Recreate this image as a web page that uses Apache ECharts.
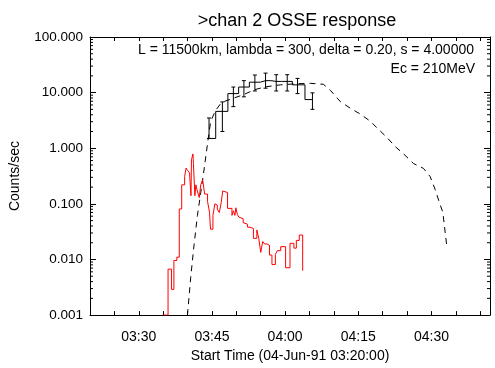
<!DOCTYPE html>
<html>
<head>
    <meta charset="UTF-8"/>
    <script src="https://cdn.jsdelivr.net/npm/echarts@6/dist/echarts.min.js"></script>
    <title>chan 2 OSSE response</title>
    <style>
        body { margin: 0; background: #fff; }
        #main { width: 495px; height: 368px; }
    </style>
</head>
<body>
<div id="main"></div>
<script type="text/javascript">
    // times are minutes after 03:00 UT (04-Jun-91), rates in counts/sec
    var xMin = 20, xMax = 102;

    // red histogram (bin start, rate)
    var redTime = [34.9, 36.0, 36.7, 37.2, 37.8, 38.3, 38.8, 39.4, 39.7, 40.0,
        40.4, 40.7, 40.8, 41.1, 41.2, 41.5, 41.7, 42.0, 42.4, 42.7,
        43.1, 43.5, 44.1, 44.5, 44.7, 45.2, 45.6, 45.8, 46.1, 46.5,
        46.9, 47.2, 47.6, 48.2, 48.6, 49.1, 49.4, 49.7, 49.9, 50.2,
        50.5, 50.9, 51.4, 51.8, 52.3, 52.8, 53.5, 54.2, 54.6, 55.0,
        55.4, 55.8, 56.3, 56.8, 57.3, 58.0, 58.4, 59.1, 59.5, 60.1,
        61.0, 61.8, 62.3, 62.9, 63.6];
    var redRate = [0.001, 0.0067, 0.0029, 0.0096, 0.011, 0.081, 0.22, 0.31, 0.44, 0.40,
        0.36, 0.14, 0.62, 0.79, 0.53, 0.14, 0.22, 0.17, 0.13, 0.22,
        0.27, 0.15, 0.11, 0.071, 0.035, 0.062, 0.10, 0.095, 0.08, 0.07,
        0.105, 0.17, 0.16, 0.083, 0.083, 0.062, 0.075, 0.062, 0.085, 0.065,
        0.058, 0.054, 0.046, 0.043, 0.038, 0.036, 0.024, 0.034, 0.024, 0.0134,
        0.021, 0.019, 0.018, 0.012, 0.0081, 0.0123, 0.0144, 0.017, 0.017, 0.0071,
        0.0195, 0.016, 0.022, 0.0275, 0.0063];

    // black OSSE points with error bars
    var obsTime = [44.40, 47.14, 49.39, 51.55, 53.80, 55.99, 58.18, 60.43, 62.54, 65.60];
    var obsRate = [1.5, 4.6, 9.6, 12.6, 15.4, 16.4, 15.9, 15.9, 13.8, 7.5];
    var obsLow  = [1.5, 2.0, 5.6, 8.4, 10.7, 12.0, 10.7, 10.7, 9.6, 5.0];
    var obsHigh = [3.5, 6.8, 12.6, 16.4, 20.7, 22.4, 21.0, 21.0, 18.0, 9.9];

    // dashed model curve
    var modelTime = [39.98, 40.65, 41.33, 42.02, 42.70, 43.37, 44.07, 44.74, 45.77, 46.99,
        49.24, 51.49, 53.74, 55.99, 59.06, 62.13, 65.19, 67.85, 69.28, 71.33,
        73.37, 75.42, 77.46, 79.16, 80.88, 82.58, 84.27, 86.32, 88.36, 89.73,
        90.76, 91.64, 92.33, 92.80, 93.15];
    var modelRate = [0.001, 0.0048, 0.0183, 0.0615, 0.158, 0.406, 1.17, 3.06, 4.83, 6.68,
        7.85, 9.2, 11.3, 12.7, 13.8, 14.4, 14.7, 14.1, 11.0, 6.87,
        5.24, 4.11, 3.06, 2.18, 1.56, 1.07, 0.794, 0.531, 0.434, 0.31,
        0.181, 0.105, 0.0703, 0.0313, 0.0171];

    var decades = [-3, -2, -1, 0, 1];
    var font = 'Liberation Sans, Arial, Helvetica, sans-serif';

    function pad(n) { return (n < 10 ? '0' : '') + n; }
    function pairs(xs, ys) { return xs.map(function (x, i) { return [x, ys[i]]; }); }

    // minor ticks 2..9 in every decade, drawn through the y scale
    var minorVals = [];
    decades.forEach(function (d) {
        for (var m = 2; m <= 9; m++) minorVals.push([xMin, m * Math.pow(10, d)]);
    });

    var black = '#000';
    var myChart = echarts.init(document.getElementById('main'));

    var option = {
        animation: false,
        backgroundColor: '#fff',
        textStyle: {fontFamily: font},
        title: {
            text: '>chan 2 OSSE response',
            left: 292, top: 7, textAlign: 'center',
            textStyle: {fontSize: 18, fontWeight: 'normal', color: '#000', fontFamily: font}
        },
        grid: {left: 89, right: 5, top: 37, bottom: 46},
        graphic: [
            {type: 'text', right: 21, top: 43,
                style: {text: 'L = 11500km, lambda = 300, delta = 0.20, s = 4.00000', font: '14px ' + font, fill: '#000'}},
            {type: 'text', right: 20, top: 62,
                style: {text: 'Ec = 210MeV', font: '14px ' + font, fill: '#000'}}
        ],
        xAxis: [{
            type: 'value', min: xMin, max: xMax, interval: 5, position: 'bottom',
            axisLine: {show: true, onZero: false, lineStyle: {color: black, width: 1}},
            axisTick: {show: true, inside: true, length: 4, lineStyle: {color: black}},
            axisLabel: {
                color: '#000', fontSize: 14, margin: 15, showMaxLabel: false,
                formatter: function (v) {
                    if (v % 15 !== 0) return '';
                    return pad(3 + Math.floor(v / 60)) + ':' + pad(v % 60);
                }
            },
            splitLine: {show: false},
            name: 'Start Time (04-Jun-91 03:20:00)', nameLocation: 'middle', nameGap: 32,
            nameTextStyle: {fontSize: 14, color: '#000'}
        }, {
            type: 'value', min: xMin, max: xMax, interval: 5, position: 'top',
            axisLine: {show: true, onZero: false, lineStyle: {color: black, width: 1}},
            axisTick: {show: true, inside: true, length: 4, lineStyle: {color: black}},
            axisLabel: {show: false},
            splitLine: {show: false}
        }],
        yAxis: [{
            type: 'log', logBase: 10, min: 0.001, max: 100, position: 'left',
            axisLine: {show: true, onZero: false, lineStyle: {color: black, width: 1}},
            axisTick: {show: true, inside: true, length: 6, lineStyle: {color: black}},
            axisLabel: {
                color: '#000', fontSize: 13.5, margin: 7,
                formatter: function (v) { return Number(v).toFixed(3); }
            },
            splitLine: {show: false},
            name: 'Counts/sec', nameLocation: 'middle', nameGap: 68,
            nameTextStyle: {fontSize: 14, color: '#000'}
        }, {
            type: 'log', logBase: 10, min: 0.001, max: 100, position: 'right',
            axisLine: {show: true, onZero: false, lineStyle: {color: black, width: 1}},
            axisTick: {show: true, inside: true, length: 6, lineStyle: {color: black}},
            axisLabel: {show: false},
            splitLine: {show: false}
        }],
        series: [{
            name: 'model', type: 'line', data: pairs(modelTime, modelRate),
            showSymbol: false, clip: true,
            lineStyle: {color: black, width: 1, type: [6, 5]}
        }, {
            name: 'red', type: 'line', step: 'end', data: pairs(redTime, redRate),
            showSymbol: false, clip: true,
            lineStyle: {color: '#ff0000', width: 1}
        }, {
            name: 'osse', type: 'line', step: 'middle', data: pairs(obsTime, obsRate),
            showSymbol: false,
            lineStyle: {color: black, width: 1}
        }, {
            name: 'err', type: 'custom',
            data: obsTime.map(function (t, i) { return [t, obsLow[i], obsHigh[i]]; }),
            encode: {x: 0, y: [1, 2]},
            renderItem: function (params, api) {
                var top = api.coord([api.value(0), api.value(2)]);
                var bot = api.coord([api.value(0), api.value(1)]);
                var w = 2;
                var st = {stroke: black, lineWidth: 1};
                return {type: 'group', children: [
                    {type: 'line', shape: {x1: top[0], y1: top[1], x2: bot[0], y2: bot[1]}, style: st},
                    {type: 'line', shape: {x1: top[0] - w, y1: top[1], x2: top[0] + w, y2: top[1]}, style: st},
                    {type: 'line', shape: {x1: bot[0] - w, y1: bot[1], x2: bot[0] + w, y2: bot[1]}, style: st}
                ]};
            }
        }, {
            name: 'minor', type: 'custom', silent: true,
            data: minorVals,
            encode: {x: 0, y: 1},
            renderItem: function (params, api) {
                var p = api.coord([xMin, api.value(1)]);
                var q = api.coord([xMax, api.value(1)]);
                var st = {stroke: black, lineWidth: 1};
                return {type: 'group', children: [
                    {type: 'line', shape: {x1: p[0], y1: p[1], x2: p[0] + 3, y2: p[1]}, style: st},
                    {type: 'line', shape: {x1: q[0], y1: q[1], x2: q[0] - 3, y2: q[1]}, style: st}
                ]};
            }
        }]
    };

    myChart.setOption(option);
</script>
</body>
</html>
